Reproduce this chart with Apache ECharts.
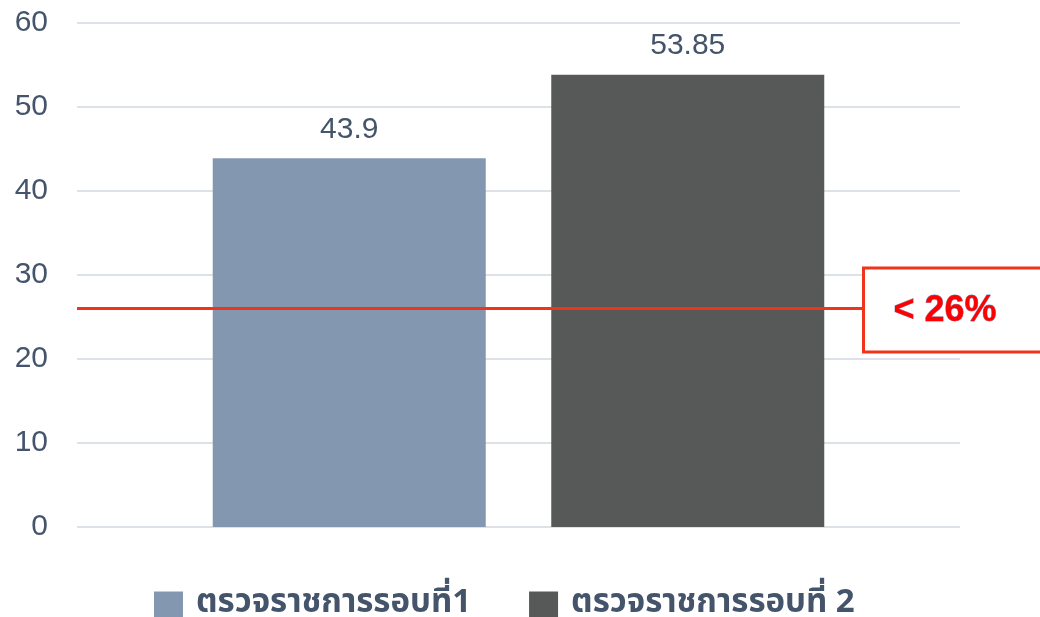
<!DOCTYPE html>
<html><head><meta charset="utf-8">
<script src="https://cdn.jsdelivr.net/npm/echarts@6/dist/echarts.min.js"></script>
<style>html,body{margin:0;padding:0;background:#fff}#c{width:1040px;height:617px}</style>
</head><body><div id="c"></div>
<script>
const categories = [''];
const seriesNames = ['ตรวจราชการรอบที่1', 'ตรวจราชการรอบที่ 2'];
const round1 = [43.9];
const round2 = [53.85];
const targetValue = 26;
const targetLabel = '< 26%';
const yTicks = [0, 10, 20, 30, 40, 50, 60];

const txt = '#44546A';
const font = '"Liberation Sans", Arial, sans-serif';
const chart = echarts.init(document.getElementById('c'));
chart.setOption({
  animation: false,
  grid: {left: 77, right: 80, top: 23, bottom: 90},
  legend: {
    top: 584, left: 149, itemWidth: 29, itemHeight: 28, itemGap: 58,
    icon: 'rect',
    textStyle: {fontSize: 33, fontWeight: 'bold', color: txt, padding: [0, 0, 0, 8],
      fontFamily: '"Noto Sans Thai","Noto Sans","DejaVu Sans",sans-serif'},
    data: seriesNames
  },
  xAxis: {type: 'category', data: categories, axisLine: {show: false}, axisTick: {show: false}, axisLabel: {show: false}},
  yAxis: {
    type: 'value', min: yTicks[0], max: yTicks[yTicks.length-1], interval: 10,
    axisLabel: {fontSize: 30, color: txt, fontFamily: font, margin: 29},
    splitLine: {lineStyle: {color: '#DDE1E8', width: 2}},
    axisLine: {show: false}, axisTick: {show: false}
  },
  series: [
    {name: seriesNames[0], type: 'bar', data: round1, barWidth: 273, barGap: '24%',
     itemStyle: {color: '#8497B0'},
     label: {show: true, position: 'top', distance: 14, fontSize: 30, color: txt, fontFamily: font},
     markLine: {symbol: 'none', silent: true, label: {show: false}, z: 3,
       lineStyle: {color: '#F0341A', width: 3, type: 'solid'},
       data: [{yAxis: targetValue}]}},
    {name: seriesNames[1], type: 'bar', data: round2, barWidth: 273,
     itemStyle: {color: '#575958'},
     label: {show: true, position: 'top', distance: 14, fontSize: 30, color: txt, fontFamily: font}}
  ]
});
const yPix = chart.convertToPixel({yAxisIndex: 0}, targetValue);
chart.setOption({
  graphic: [{
    type: 'group', left: 862, top: yPix - 42, z: 100,
    children: [
      {type: 'rect', z: 100, shape: {x: 0, y: 0, width: 200, height: 84},
       style: {fill: '#fff', stroke: '#F0341A', lineWidth: 3}},
      {type: 'text', z: 101, x: 30, y: 43,
       style: {text: targetLabel, fill: '#FF0000', stroke: '#8a8fbf', lineWidth: 0.8, font: 'bold 36px "Liberation Sans", Arial, sans-serif', verticalAlign: 'middle'}}
    ]
  }]
});
</script></body></html>
